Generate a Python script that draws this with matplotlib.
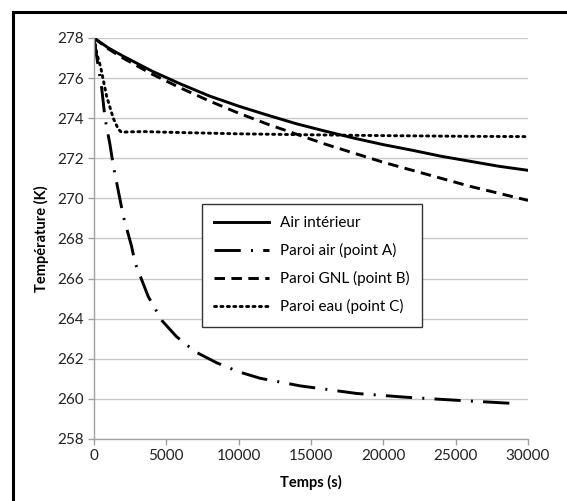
import matplotlib
matplotlib.use('Agg')
import matplotlib.pyplot as plt
import numpy as np

plt.rcParams['font.family'] = ['Lato', 'DejaVu Sans']

# Air intérieur
t_air = [0, 1000, 2000, 4000, 6000, 8000, 10000, 12000, 14000, 16000, 18000,
         20000, 22000, 24000, 26000, 28000, 30000]
T_air = [278, 277.5, 277.1, 276.35, 275.7, 275.1, 274.6, 274.15, 273.72, 273.35,
         273.0, 272.68, 272.4, 272.1, 271.85, 271.6, 271.4]

# Paroi air (point A)
t_pa = [0, 180, 530, 760, 1100, 1340, 2030, 2600, 2830, 3750, 4700, 5710, 7000,
        8480, 10000, 11470, 14240, 18160, 21600, 24840, 28530, 29300]
T_pa = [278, 277.1, 275.5, 274.0, 272.7, 271.6, 269.1, 267.6, 266.8, 265.1, 263.9,
        263.1, 262.35, 261.8, 261.35, 261.03, 260.65, 260.27, 260.08, 259.94, 259.79, 259.76]

# Paroi GNL (point B)
t_gnl = [0, 1000, 2000, 4000, 6000, 8000, 10000, 12000, 14000, 16000, 18000,
         20000, 22000, 24000, 26000, 28000, 30000]
T_gnl = [278, 277.45, 277.0, 276.2, 275.5, 274.85, 274.25, 273.7, 273.2, 272.7,
         272.25, 271.8, 271.4, 271.0, 270.6, 270.25, 269.9]

# Paroi eau (point C)
t_eau = [0, 200, 460, 870, 1330, 1680, 1900, 2500, 3500, 5000, 10000, 15000,
         20000, 25000, 30000]
T_eau = [278, 277.2, 276.55, 275.1, 274.0, 273.45, 273.3, 273.32, 273.33, 273.3,
         273.22, 273.17, 273.13, 273.1, 273.08]

fig = plt.figure(figsize=(5.67, 5.01), dpi=100)
ax = fig.add_axes([0.1658, 0.1238, 0.7654, 0.8004])

lw = 2.1
ax.plot(t_air, T_air, color='black', linewidth=lw, label='Air intérieur')
ax.plot(t_pa, T_pa, color='black', linewidth=lw, linestyle=(0, (9, 3.5, 0.7, 3.5)),
        label='Paroi air (point A)')
ax.plot(t_gnl, T_gnl, color='black', linewidth=lw, linestyle=(0, (3.6, 2.2)),
        label='Paroi GNL (point B)')
ax.plot(t_eau, T_eau, color='black', linewidth=lw, linestyle=(0, (0.7, 1.5)),
        dash_capstyle='round', label='Paroi eau (point C)')

ax.set_xlim(0, 30000)
ax.set_ylim(258, 278)
ax.set_xticks(np.arange(0, 30001, 5000))
ax.set_yticks(np.arange(258, 279, 2))
ax.yaxis.grid(True, color='#c8c8c8', linewidth=1)
ax.set_axisbelow(True)
for s in ['top', 'right']:
    ax.spines[s].set_visible(False)
for s in ['left', 'bottom']:
    ax.spines[s].set_color('#a0a0a0')
    ax.spines[s].set_linewidth(1)
ax.tick_params(axis='both', colors='#a0a0a0', labelcolor='#222222', labelsize=11,
               length=4, width=1)
ax.set_xlabel('Temps (s)', fontsize=10.5, fontweight='bold', labelpad=8)
ax.set_ylabel('Température (K)', fontsize=10.5, fontweight='bold', labelpad=6)

leg = ax.legend(loc='upper left', bbox_to_anchor=(0.249, 0.586), fontsize=11,
                handlelength=3.6, labelspacing=0.85, borderpad=0.8,
                handletextpad=0.7, borderaxespad=0, fancybox=False, framealpha=1)
leg.get_frame().set_edgecolor('#333333')
leg.get_frame().set_linewidth(1)

# frame of the picture, left and top sides
fig.add_artist(plt.Line2D([12.5/567, 12.5/567], [0, 1 - 12/501], color='black',
                          linewidth=2.2, transform=fig.transFigure))
fig.add_artist(plt.Line2D([12.5/567, 1], [1 - 12/501, 1 - 12/501], color='black',
                          linewidth=2.2, transform=fig.transFigure))

fig.savefig('out.png', dpi=100)
